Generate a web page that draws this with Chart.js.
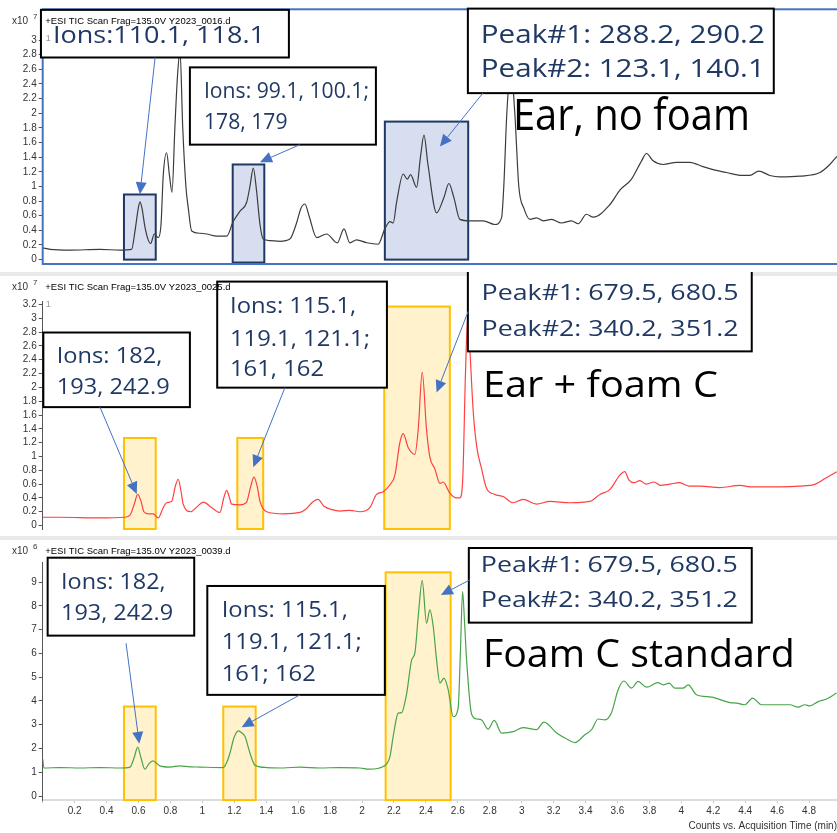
<!DOCTYPE html>
<html>
<head>
<meta charset="utf-8">
<script src="https://cdn.jsdelivr.net/npm/chart.js@4.4.1/dist/chart.umd.min.js"></script>
<style>
  html, body { margin: 0; padding: 0; background: #fff; }
  body { width: 837px; height: 833px; position: relative; overflow: hidden; }
  .panel { position: absolute; left: 0; width: 837px; }
  .sep { position: absolute; left: 0; width: 837px; background: #e9e9e9; }
</style>
</head>
<body>
<div class="panel" style="top:0;height:272px"><canvas id="c1" width="837" height="272"></canvas></div>
<div class="sep" style="top:272px;height:4px"></div>
<div class="panel" style="top:272px;height:265px"><canvas id="c2" width="837" height="265"></canvas></div>
<div class="sep" style="top:536px;height:4px"></div>
<div class="panel" style="top:537px;height:296px"><canvas id="c3" width="837" height="296"></canvas></div>
<script>
// ---- TIC traces (time in min, counts in the panel's x10^n units) ----
const earNoFoamTime = [0.000,0.046,0.171,0.359,0.484,0.557,0.578,0.597,0.609,0.622,0.640,0.659,0.676,0.699,0.724,0.741,0.755,0.776,0.794,0.810,0.828,0.844,0.860,0.877,0.897,0.912,0.933,0.985,1.027,1.090,1.152,1.193,1.235,1.277,1.298,1.319,1.339,1.361,1.381,1.423,1.486,1.548,1.590,1.617,1.642,1.668,1.716,1.778,1.845,1.887,1.924,1.966,2.029,2.101,2.143,2.175,2.195,2.217,2.258,2.283,2.304,2.342,2.366,2.388,2.413,2.467,2.513,2.544,2.575,2.613,2.675,2.759,2.832,2.874,2.888,2.907,2.932,2.957,2.982,3.014,3.052,3.093,3.135,3.187,3.250,3.312,3.354,3.406,3.448,3.552,3.615,3.688,3.751,3.782,3.823,3.886,3.970,4.053,4.136,4.199,4.283,4.377,4.429,4.485,4.554,4.617,4.742,4.868,4.930,4.974];
const earNoFoamCounts = [0.16,0.14,0.13,0.14,0.13,0.14,0.39,0.68,0.79,0.70,0.45,0.28,0.22,0.35,0.30,0.48,1.15,1.46,1.15,0.92,1.81,2.50,2.85,1.81,1.00,0.70,0.39,0.36,0.35,0.32,0.32,0.52,0.66,0.78,1.00,1.25,0.95,0.48,0.28,0.26,0.25,0.28,0.50,0.70,0.76,0.60,0.30,0.35,0.23,0.42,0.23,0.27,0.23,0.21,0.42,0.52,0.50,0.79,1.17,1.10,1.16,0.99,1.40,1.70,1.30,0.64,0.85,1.04,0.85,0.55,0.53,0.53,0.48,0.57,1.00,2.00,2.63,2.00,1.00,0.70,0.55,0.57,0.53,0.55,0.50,0.53,0.49,0.62,0.58,0.75,0.95,1.10,1.35,1.45,1.35,1.30,1.33,1.33,1.27,1.23,1.19,1.15,1.15,1.21,1.15,1.13,1.14,1.19,1.30,1.41];

const earFoamTime = [0.000,0.108,0.359,0.515,0.547,0.572,0.595,0.616,0.634,0.661,0.693,0.724,0.753,0.776,0.808,0.832,0.849,0.866,0.880,0.927,0.966,1.006,1.058,1.110,1.132,1.152,1.170,1.183,1.235,1.277,1.301,1.323,1.345,1.361,1.403,1.507,1.611,1.649,1.686,1.724,1.762,1.812,1.862,1.924,1.987,2.049,2.091,2.133,2.175,2.206,2.237,2.258,2.289,2.331,2.352,2.377,2.404,2.425,2.456,2.488,2.508,2.550,2.592,2.613,2.630,2.648,2.663,2.679,2.696,2.718,2.749,2.780,2.832,2.884,2.947,3.009,3.093,3.176,3.302,3.427,3.490,3.552,3.615,3.646,3.671,3.703,3.740,3.780,3.830,3.870,3.930,3.990,4.050,4.120,4.240,4.370,4.430,4.490,4.620,4.740,4.840,4.900,4.974];
const earFoamCounts = [0.12,0.12,0.11,0.12,0.15,0.30,0.45,0.35,0.20,0.17,0.17,0.11,0.25,0.33,0.35,0.58,0.67,0.50,0.31,0.20,0.27,0.34,0.26,0.19,0.38,0.51,0.40,0.31,0.30,0.34,0.55,0.70,0.55,0.35,0.20,0.17,0.19,0.24,0.33,0.38,0.28,0.23,0.21,0.22,0.20,0.26,0.45,0.49,0.59,0.73,1.20,1.33,1.13,1.03,1.39,2.22,1.39,0.99,0.82,0.61,0.63,0.47,0.40,0.40,0.63,2.20,3.08,2.40,1.67,1.15,0.82,0.54,0.45,0.42,0.33,0.38,0.31,0.35,0.33,0.35,0.45,0.52,0.73,0.78,0.66,0.62,0.65,0.60,0.63,0.58,0.60,0.62,0.57,0.57,0.55,0.58,0.56,0.56,0.56,0.57,0.60,0.68,0.78];

const foamStdTime = [0.000,0.008,0.108,0.234,0.359,0.484,0.547,0.572,0.595,0.616,0.640,0.665,0.689,0.734,0.797,0.860,0.922,0.985,1.131,1.155,1.173,1.198,1.225,1.248,1.267,1.298,1.330,1.403,1.507,1.611,1.736,1.862,1.987,2.049,2.133,2.175,2.195,2.227,2.248,2.280,2.311,2.331,2.352,2.377,2.404,2.425,2.446,2.467,2.488,2.513,2.540,2.571,2.602,2.616,2.630,2.643,2.655,2.686,2.718,2.749,2.790,2.828,2.874,2.947,3.009,3.093,3.139,3.219,3.271,3.333,3.396,3.438,3.479,3.521,3.563,3.604,3.640,3.688,3.729,3.782,3.854,3.886,3.924,3.959,4.011,4.043,4.095,4.189,4.304,4.346,4.398,4.446,4.502,4.617,4.680,4.731,4.774,4.805,4.857,4.909,4.972];
const foamStdCounts = [1.55,1.18,1.20,1.18,1.20,1.18,1.22,1.60,2.06,1.60,1.13,1.35,1.48,1.27,1.22,1.27,1.23,1.22,1.20,1.45,1.81,2.45,2.74,2.65,2.50,1.81,1.29,1.20,1.18,1.22,1.18,1.20,1.18,1.13,1.24,1.66,2.50,3.49,3.51,4.33,5.73,6.01,7.55,9.06,7.27,7.83,7.13,5.73,4.75,4.96,4.47,3.34,3.70,6.00,8.60,7.20,5.73,3.45,3.24,3.20,2.81,3.18,2.65,2.71,2.88,2.79,3.11,2.65,2.44,2.25,2.58,2.79,3.24,3.20,3.51,4.47,4.84,4.54,4.82,4.58,4.77,4.68,4.75,4.54,4.54,4.68,4.26,4.16,3.93,3.91,3.84,4.12,3.84,3.84,3.84,3.74,3.84,3.79,3.97,4.08,4.33];

const X_MIN = 0, X_MAX = 4.975;
const CALLOUT_FONT = "'Open Sans', 'Noto Sans', sans-serif";
const AXIS_FONT = "'Liberation Sans', Arial, sans-serif";

const panels = [
  {
    id: 'c1', time: earNoFoamTime, counts: earNoFoamCounts, color: '#3c3c3c',
    yMin: -0.06, yMax: 3.15, yStep: 0.2, padTop: 29.1, padBottom: 1.2, showX: false,
    header: '+ESI TIC Scan Frag=135.0V Y2023_0016.d', exp: '7', headerDy: -5.6, expDy: -5, oneDy: 12,
    frame: { color: '#4472C4', topDy: -19.8 },
    hlFill: '#D6DEF0', hlStroke: '#1F3864',
    highlights: [ {t0:0.509,t1:0.708,v0:0,v1:0.89}, {t0:1.190,t1:1.388,v0:-0.04,v1:1.30}, {t0:2.143,t1:2.665,v0:0,v1:1.886} ],
    callouts: [
      { box:[-0.011,1.542,3.413,2.762], lines:['Ions:110.1, 118.1'], t:0.064, base:[2.959], size:24, fit:212,
        arrow:[0.704,2.762,0.609,0.894] },
      { box:[0.922,2.087,2.627,1.571], lines:['Ions: 99.1, 100.1;','178, 179'], t:1.010, base:[2.209,1.788], size:21, fit:165,
        arrow:[1.611,1.571,1.361,1.332] },
      { box:[2.663,4.579,3.430,2.275], lines:['Peak#1: 288.2, 290.2','Peak#2: 123.1, 140.1'], t:2.744, base:[2.965,2.501], size:26, fit:284,
        arrow:[2.757,2.275,2.488,1.545] }
    ],
    label: { text:'Ear, no foam', t:2.945, v:1.770, size:44, fit:237 }
  },
  {
    id: 'c2', time: earFoamTime, counts: earFoamCounts, color: '#FF4040',
    yMin: -0.05, yMax: 3.24, yStep: 0.2, padTop: 29.7, padBottom: 1.75, showX: false,
    header: '+ESI TIC Scan Frag=135.0V Y2023_0025.d', exp: '7', headerDy: -12.2, expDy: -11.7, oneDy: 5,
    hlFill: '#FFF2CC', hlStroke: '#FFC000',
    highlights: [ {t0:0.509,t1:0.708,v0:-0.05,v1:1.268}, {t0:1.219,t1:1.381,v0:-0.05,v1:1.268}, {t0:2.139,t1:2.550,v0:-0.05,v1:3.17} ],
    callouts: [
      { box:[0.004,0.922,2.794,1.714], lines:['Ions: 182,','193, 242.9'], t:0.088, base:[2.358,1.911], size:22.4, fit:113,
        arrow:[0.359,1.714,0.589,0.456] },
      { box:[1.093,2.156,3.531,1.996], lines:['Ions: 115.1,','119.1, 121.1;','161, 162'], t:1.173, base:[3.076,2.606,2.165], size:21, fit:140,
        arrow:[1.517,1.996,1.319,0.845] },
      { box:[2.663,4.441,3.714,2.521], lines:['Peak#1: 679.5, 680.5','Peak#2: 340.2, 351.2'], t:2.749, base:[3.263,2.746], size:22.4, fit:257,
        arrow:[2.665,3.099,2.467,1.925] }
    ],
    label: { text:'Ear + foam C', t:2.757, v:1.865, size:36.4, fit:235 }
  },
  {
    id: 'c3', time: foamStdTime, counts: foamStdCounts, color: '#47A447',
    yMin: -0.17, yMax: 9.84, yStep: 1, padTop: 25.1, padBottom: 0, showX: true, xAxisHeight: 32.9,
    header: '+ESI TIC Scan Frag=135.0V Y2023_0039.d', exp: '6', headerDy: -8.6, expDy: -8.1, oneDy: null,
    hlFill: '#FFF2CC', hlStroke: '#FFC000',
    highlights: [ {t0:0.509,t1:0.708,v0:-0.17,v1:3.765}, {t0:1.131,t1:1.334,v0:-0.17,v1:3.765}, {t0:2.148,t1:2.555,v0:-0.17,v1:9.41} ],
    callouts: [
      { box:[0.031,0.949,10.025,6.748], lines:['Ions: 182,','193, 242.9'], t:0.115, base:[8.710,7.408], size:22.4, fit:112,
        arrow:[0.522,6.43,0.605,2.197] },
      { box:[1.031,2.143,8.836,4.256], lines:['Ions: 115.1,','119.1, 121.1;','161; 162'], t:1.121, base:[7.546,6.189,4.845], size:22.4, fit:140,
        arrow:[1.611,4.256,1.246,2.899] },
      { box:[2.669,4.441,10.433,7.294], lines:['Peak#1: 679.5, 680.5','Peak#2: 340.2, 351.2'], t:2.744, base:[9.424,7.966], size:22.4, fit:257,
        arrow:[2.675,9.088,2.494,8.458] }
    ],
    label: { text:'Foam C standard', t:2.757, v:5.445, size:37.4, fit:312 }
  }
];

function drawFitted(ctx, lines, x, ys, size, fit, color) {
  ctx.font = size + 'px ' + CALLOUT_FONT;
  const w = Math.max(...lines.map(l => ctx.measureText(l).width));
  const sx = fit ? fit / w : 1;
  ctx.fillStyle = color;
  ctx.textAlign = 'left';
  ctx.textBaseline = 'alphabetic';
  lines.forEach((l, i) => {
    ctx.save();
    ctx.translate(x, ys[i]);
    ctx.scale(sx, 1);
    ctx.fillText(l, 0, 0);
    ctx.restore();
  });
}

function drawArrow(ctx, x0, y0, x1, y1) {
  const a = Math.atan2(y1 - y0, x1 - x0), L = 12, W = 5.5;
  const bx = x1 - L * Math.cos(a), by = y1 - L * Math.sin(a);
  ctx.strokeStyle = '#4472C4';
  ctx.fillStyle = '#4472C4';
  ctx.lineWidth = 1;
  ctx.beginPath(); ctx.moveTo(x0, y0); ctx.lineTo(bx, by); ctx.stroke();
  ctx.beginPath();
  ctx.moveTo(x1, y1);
  ctx.lineTo(bx + W * Math.sin(a), by - W * Math.cos(a));
  ctx.lineTo(bx - W * Math.sin(a), by + W * Math.cos(a));
  ctx.closePath(); ctx.fill();
}

function decorPlugin(p) {
  return {
    id: 'decor_' + p.id,
    beforeDatasetsDraw(chart) {
      const ctx = chart.ctx, xs = chart.scales.x, ys = chart.scales.y;
      ctx.save();
      p.highlights.forEach(h => {
        const x0 = xs.getPixelForValue(h.t0), x1 = xs.getPixelForValue(h.t1);
        const y0 = ys.getPixelForValue(h.v0), y1 = ys.getPixelForValue(h.v1);
        ctx.fillStyle = p.hlFill;
        ctx.fillRect(x0, y1, x1 - x0, y0 - y1);
        ctx.strokeStyle = p.hlStroke;
        ctx.lineWidth = 2;
        ctx.strokeRect(x0, y1, x1 - x0, y0 - y1);
      });
      ctx.restore();
    },
    afterDatasetsDraw(chart) {
      const ctx = chart.ctx, xs = chart.scales.x, ys = chart.scales.y, area = chart.chartArea;
      ctx.save();
      // selection frame
      if (p.frame) {
        ctx.strokeStyle = p.frame.color;
        ctx.lineWidth = 2;
        ctx.strokeRect(area.left, area.top + p.frame.topDy, area.right - area.left + 2, area.bottom - area.top - p.frame.topDy);
      }
      // panel label
      const L = p.label;
      drawFitted(ctx, [L.text], xs.getPixelForValue(L.t), [ys.getPixelForValue(L.v)], L.size, L.fit, '#000');
      // callouts
      p.callouts.forEach(c => {
        const x0 = xs.getPixelForValue(c.box[0]), x1 = xs.getPixelForValue(c.box[1]);
        const y0 = ys.getPixelForValue(c.box[2]), y1 = ys.getPixelForValue(c.box[3]);
        ctx.fillStyle = '#fff';
        ctx.fillRect(x0, y0, x1 - x0, y1 - y0);
        ctx.strokeStyle = '#000';
        ctx.lineWidth = 2;
        ctx.strokeRect(x0, y0, x1 - x0, y1 - y0);
        drawFitted(ctx, c.lines, xs.getPixelForValue(c.t), c.base.map(v => ys.getPixelForValue(v)), c.size, c.fit, '#203864');
      });
      p.callouts.forEach(c => {
        const a = c.arrow;
        drawArrow(ctx, xs.getPixelForValue(a[0]), ys.getPixelForValue(a[1]), xs.getPixelForValue(a[2]), ys.getPixelForValue(a[3]));
      });
      // header line, exponent and trace index
      ctx.fillStyle = '#000';
      ctx.textBaseline = 'alphabetic';
      ctx.textAlign = 'left';
      ctx.font = '9.5px ' + AXIS_FONT;
      ctx.fillText(p.header, area.left + 2.5, area.top + p.headerDy);
      ctx.fillStyle = '#333';
      ctx.font = '10px ' + AXIS_FONT;
      ctx.fillText('x10', 12, area.top + p.expDy);
      ctx.font = '8px ' + AXIS_FONT;
      ctx.fillText(p.exp, 33, area.top + p.expDy - 5);
      if (p.oneDy !== null) {
        ctx.fillStyle = '#999';
        ctx.font = '9px ' + AXIS_FONT;
        ctx.fillText('1', area.left + 3, area.top + p.oneDy);
      }
      ctx.restore();
    }
  };
}

function tickText(v) {
  return String(Math.round(v * 10) / 10);
}

panels.forEach(p => {
  const points = p.time.map((t, i) => ({ x: t, y: p.counts[i] }));
  new Chart(document.getElementById(p.id), {
    type: 'line',
    data: { datasets: [{ data: points, borderColor: p.color, borderWidth: 1.2, pointRadius: 0, fill: false,
                         cubicInterpolationMode: 'monotone', tension: 0.4 }] },
    options: {
      responsive: false, animation: false, events: [],
      layout: { padding: { top: p.padTop, bottom: p.padBottom, left: 0, right: 0 } },
      plugins: { legend: { display: false }, tooltip: { enabled: false } },
      scales: {
        x: {
          type: 'linear', min: X_MIN, max: X_MAX, display: p.showX,
          afterFit: s => { if (p.showX) s.height = p.xAxisHeight; },
          grid: { drawOnChartArea: false, tickLength: 3, color: '#c8c8c8' },
          border: { display: true, color: '#dcdcdc', width: 2 },
          ticks: { stepSize: 0.2, includeBounds: false, maxRotation: 0, autoSkip: false, padding: 2,
                   color: '#333', font: { family: AXIS_FONT, size: 10 },
                   callback: v => (v === 0 ? '' : tickText(v)) },
          title: { display: true, text: 'Counts vs. Acquisition Time (min)', align: 'end', color: '#333',
                   font: { family: AXIS_FONT, size: 10 }, padding: { top: 0, bottom: 1 } }
        },
        y: {
          type: 'linear', min: p.yMin, max: p.yMax,
          afterFit: s => { s.width = 42.7; },
          grid: { drawOnChartArea: false, tickLength: 4, color: '#555' },
          border: { display: true, color: '#555', width: 1 },
          ticks: { stepSize: p.yStep, includeBounds: false, autoSkip: false, padding: 2, color: '#333',
                   font: { family: AXIS_FONT, size: 10 }, callback: v => tickText(v) }
        }
      }
    },
    plugins: [decorPlugin(p)]
  });
});
</script>
</body>
</html>
